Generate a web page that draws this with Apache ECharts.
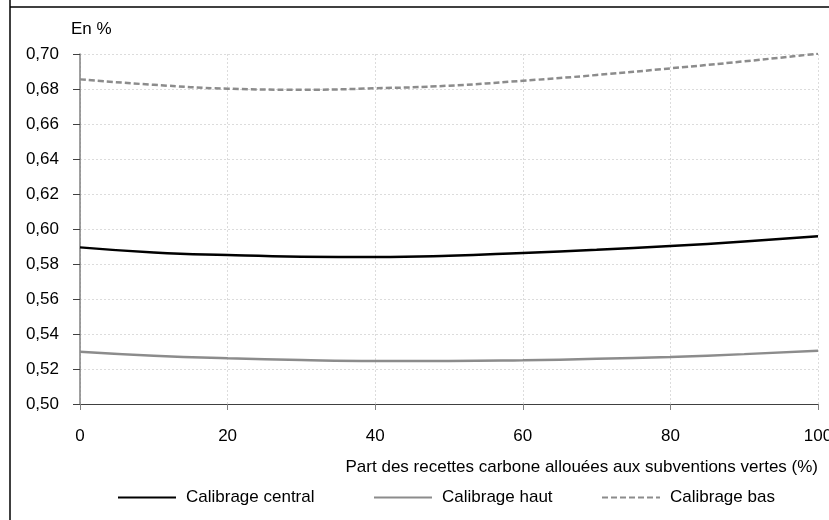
<!DOCTYPE html>
<html>
<head>
<meta charset="utf-8">
<script src="https://cdn.jsdelivr.net/npm/echarts@6/dist/echarts.min.js"></script>
<style>html,body{margin:0;padding:0;background:#fff}#c{width:829px;height:520px}</style>
</head>
<body>
<div id="c"></div>
<script>
const xValues = [0, 10, 20, 30, 40, 50, 60, 70, 80, 90, 100];
const central = [0.5895, 0.5866, 0.5851, 0.5842, 0.5840, 0.5847, 0.5863, 0.5881, 0.5903, 0.5928, 0.5958];
const haut = [0.5299, 0.5276, 0.5261, 0.5251, 0.5246, 0.5246, 0.5250, 0.5258, 0.5269, 0.5285, 0.5304];
const bas = [0.6855, 0.6824, 0.6802, 0.6796, 0.6804, 0.6819, 0.6847, 0.6880, 0.6918, 0.6958, 0.7002];
const seriesNames = ['Calibrage central', 'Calibrage haut', 'Calibrage bas'];
const xTitle = 'Part des recettes carbone allouées aux subventions vertes (%)';
const yTitle = 'En %';

const font = 'Liberation Sans, Arial, sans-serif';
const fs = 17;
const pair = arr => xValues.map((x, i) => [x, arr[i]]);
const chart = echarts.init(document.getElementById('c'));
const legendBase = {
  orient: 'horizontal', top: 489, itemWidth: 58, itemHeight: 10, padding: 0,
  itemStyle: { opacity: 0 },
  textStyle: { fontFamily: font, fontSize: fs, color: '#000', padding: [0, 0, 0, 5] }
};
chart.setOption({
  animation: false,
  title: [
    { text: yTitle, left: 71, top: 21, padding: 0, textStyle: { fontFamily: font, fontSize: fs, fontWeight: 'normal', color: '#000' } },
    { text: xTitle, right: 11, top: 459, padding: 0, textStyle: { fontFamily: font, fontSize: fs, fontWeight: 'normal', color: '#000' } }
  ],
  graphic: [
    { type: 'line', shape: { x1: 10, y1: 0, x2: 10, y2: 520 }, style: { stroke: '#000', lineWidth: 1.5 } },
    { type: 'line', shape: { x1: 10, y1: 7, x2: 829, y2: 7 }, style: { stroke: '#000', lineWidth: 1.5 } }
  ],
  legend: [
    Object.assign({}, legendBase, { left: 117, data: [seriesNames[0]] }),
    Object.assign({}, legendBase, { left: 373, data: [seriesNames[1]] }),
    Object.assign({}, legendBase, { left: 601, data: [seriesNames[2]] })
  ],
  grid: { left: 80, right: 11, top: 54, bottom: 116, containLabel: false, outerBoundsMode: 'none' },
  xAxis: {
    type: 'value', min: 0, max: 100, interval: 20,
    axisLine: { lineStyle: { color: '#404040', width: 1 } },
    axisTick: { show: true, length: 6, lineStyle: { color: '#808080' } },
    axisLabel: { fontFamily: font, fontSize: fs, color: '#000', margin: 24 },
    splitLine: { show: true, lineStyle: { color: '#dcdcdc', type: [2, 2], width: 1 } }
  },
  yAxis: {
    type: 'value', min: 0.5, max: 0.7, interval: 0.02,
    axisLine: { show: true, lineStyle: { color: '#808080', width: 1.5 } },
    axisTick: { show: true, length: 7, lineStyle: { color: '#404040' } },
    axisLabel: { fontFamily: font, fontSize: fs, color: '#000', margin: 21,
      formatter: v => v.toFixed(2).replace('.', ',') },
    splitLine: { show: true, lineStyle: { color: '#dcdcdc', type: [2, 2], width: 1 } }
  },
  series: [
    { name: seriesNames[0], type: 'line', data: pair(central), smooth: true, symbol: 'none',
      lineStyle: { color: '#000', width: 2.5 }, itemStyle: { color: '#000' } },
    { name: seriesNames[1], type: 'line', data: pair(haut), smooth: true, symbol: 'none',
      lineStyle: { color: '#8c8c8c', width: 2.5 }, itemStyle: { color: '#8c8c8c' } },
    { name: seriesNames[2], type: 'line', data: pair(bas), smooth: true, symbol: 'none',
      lineStyle: { color: '#8c8c8c', width: 2.5, type: [6, 3] }, itemStyle: { color: '#8c8c8c' } }
  ]
});
</script>
</body>
</html>
